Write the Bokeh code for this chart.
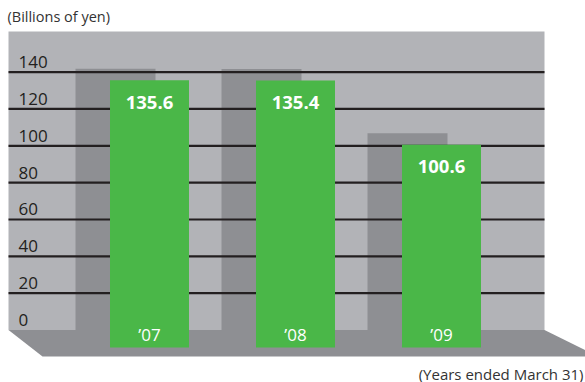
from bokeh.plotting import figure
from bokeh.models import Range1d, ColumnDataSource
from bokeh.core.properties import value
from bokeh.embed import file_html
from bokeh.resources import INLINE

# ---- data ----
years = ["\u201907", "\u201908", "\u201909"]
sales = [135.6, 135.4, 100.6]
value_labels = ["135.6", "135.4", "100.6"]
ticks = [0, 20, 40, 60, 80, 100, 120, 140]
tick_labels = ["0", "20", "40", "60", "80", "100", "120", "140"]
grid_values = [20, 40, 60, 80, 100, 120, 140]
unit_label = "(Billions of yen)"
period_label = "(Years ended March 31)"

# ---- layout constants ----
W, H = 585, 382
PX_Y = 1.842          # pixels per value unit
ZERO_PX = 329.5       # pixel row of value 0
X_SP = 146.0          # pixels between bar centres
FIRST_PX = 149.0      # pixel column of first bar centre

y_top = ZERO_PX / PX_Y
y_bot = -(H - ZERO_PX) / PX_Y
x_left = -FIRST_PX / X_SP
x_right = (W - FIRST_PX) / X_SP


def dx(px):
    return px / X_SP


def dy(px):
    return px / PX_Y


def X(px):
    return x_left + dx(px)


def Y(px):
    return y_top - dy(px)


FONT = value("Open Sans")
PANEL = "#b2b3b7"
SHADOW = "#8e8f93"
GREEN = "#4ab748"
INK = "#231f20"

p = figure(width=W, height=H, x_range=Range1d(x_left, x_right),
           y_range=Range1d(y_bot, y_top), output_backend="svg",
           toolbar_location=None, min_border=0)
p.axis.visible = False
p.grid.visible = False
p.outline_line_color = None
p.background_fill_color = "white"
p.border_fill_color = "white"

# back panel
p.quad(left=[X(8)], right=[X(544)], bottom=[0], top=[Y(31)],
       fill_color=PANEL, line_color=None)
# floor
p.patch(x=[X(8), X(544), X(598), X(42)], y=[0, 0, -dy(26.5), -dy(26.5)],
        fill_color=SHADOW, line_color=None)

idx = list(range(len(sales)))
src = ColumnDataSource(dict(
    x=idx,
    xs=[i - dx(34) for i in idx],
    v=sales,
    vshadow=[v + dy(11.5) for v in sales],
    lab=value_labels,
    yr=years,
))

# shadow (back) bars
p.vbar(x="xs", width=dx(80), top="vshadow", bottom=0, source=src,
       fill_color=SHADOW, line_color=None)

# gridlines
p.segment(x0=[X(8)] * len(grid_values), x1=[X(544)] * len(grid_values),
          y0=grid_values, y1=grid_values, line_color=INK, line_width=2.2)

# tick labels
p.text(x=[X(18)] * len(ticks), y=ticks, text=tick_labels, text_font=FONT,
       text_font_size="17px", text_color=INK, text_baseline="middle",
       y_offset=-10)

# front bars
p.vbar(x="x", width=dx(79), top="v", bottom=-dy(17.5), source=src,
       fill_color=GREEN, line_color=None)

# value labels
p.text(x="x", y="v", text="lab", source=src, text_font=FONT,
       text_font_size="18.5px", text_font_style="bold", text_color="white",
       text_align="center", text_baseline="middle", y_offset=22)

# year labels
p.text(x="x", y=-dy(17.5), text="yr", source=src, text_font=FONT,
       text_font_size="17px", text_color="white", text_align="center",
       text_baseline="middle", y_offset=-13.5)

# titles
p.text(x=[X(7)], y=[Y(16)], text=[unit_label], text_font=FONT,
       text_font_size="14.5px", text_color="#333333", text_baseline="middle")
p.text(x=[X(583)], y=[Y(373)], text=[period_label], text_font=FONT,
       text_font_size="15px", text_color="#333333", text_align="right",
       text_baseline="middle")

open("out.html", "w").write(file_html(p, INLINE))
